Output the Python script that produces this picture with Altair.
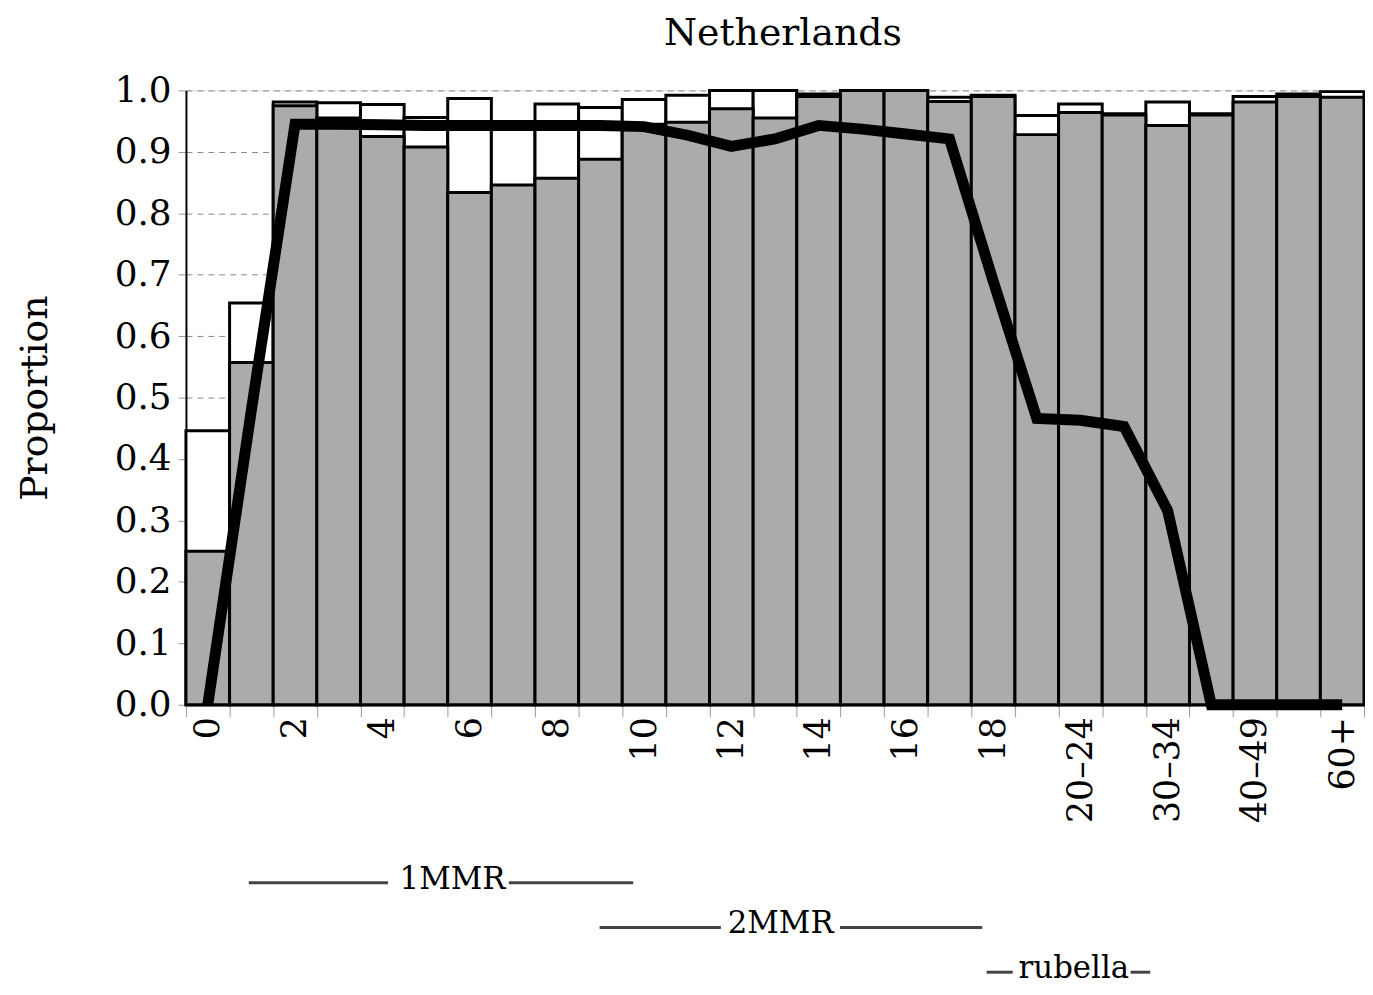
import json
import altair as alt
import pandas as pd

# ---- data ----
ages = [str(i) for i in range(20)] + ["20–24", "25–29", "30–34", "35–39", "40–49", "50–59", "60+"]
gray_prop = [0.250, 0.557, 0.975, 0.955, 0.925, 0.908, 0.834, 0.846, 0.857, 0.888,
             0.945, 0.948, 0.970, 0.955, 0.990, 1.000, 1.000, 0.982, 0.990, 0.928,
             0.964, 0.960, 0.943, 0.960, 0.981, 0.990, 0.989]
total_prop = [0.446, 0.654, 0.981, 0.980, 0.977, 0.956, 0.987, 0.943, 0.978, 0.972,
              0.985, 0.992, 1.000, 1.000, 0.994, 1.000, 1.000, 0.989, 0.992, 0.959,
              0.978, 0.962, 0.981, 0.962, 0.990, 0.994, 0.998]
line_prop = [0.000, 0.480, 0.945, 0.945, 0.944, 0.943, 0.943, 0.943, 0.943, 0.943,
             0.941, 0.927, 0.909, 0.921, 0.943, 0.937, 0.929, 0.921, 0.690, 0.466,
             0.463, 0.453, 0.316, 0.000, 0.000, 0.000, 0.000]

# annotation bands (in bar units along the age axis)
ann_labels = ["1MMR", "2MMR", "rubella"]
ann_row = [0, 1, 2]
ann_start = [1.44, 9.48, 18.35]
ann_text_left = [4.63, 12.26, 18.95]
ann_text_right = [7.40, 14.99, 21.65]
ann_end = [10.25, 18.25, 22.10]
ann_center = [6.11, 13.63, 20.35]

df = pd.DataFrame({"age": ages, "gray": gray_prop, "total": total_prop, "line": line_prop})

seg_rows = []
for lab, r, s, tl, tr, e in zip(ann_labels, ann_row, ann_start, ann_text_left, ann_text_right, ann_end):
    seg_rows.append({"label": lab, "row": r, "a": s, "b": tl})
    seg_rows.append({"label": lab, "row": r, "a": tr, "b": e})
seg_df = pd.DataFrame(seg_rows)
txt_df = pd.DataFrame({"label": ann_labels, "row": ann_row, "c": ann_center})

FONT = "DejaVu Serif"
shown = ages[::2]
label_expr = f"indexof({json.dumps(shown)}, datum.value) >= 0 ? datum.value : ''"

X = alt.X(
    "age:N",
    sort=ages,
    scale=alt.Scale(paddingInner=0, paddingOuter=0),
    axis=alt.Axis(
        title=None,
        tickBand="extent",
        labelAngle=-90,
        labelExpr=label_expr,
        labelFont=FONT,
        labelFontSize=35,
        labelColor="black",
        labelPadding=0,
        tickSize=12,
        tickColor="#999999",
        tickWidth=1,
        domainColor="black",
        domainWidth=2,
        grid=False,
    ),
)

yaxis = alt.Axis(
    title="Proportion",
    values=[round(i * 0.1, 1) for i in range(11)],
    format=".1f",
    grid=True,
    gridDash=[6, 5],
    gridColor="#888888",
    gridWidth=1,
    tickSize=8,
    tickColor="#999999",
    labelPadding=7,
    labelFont=FONT,
    labelFontSize=36,
    labelColor="black",
    titleFont=FONT,
    titleFontSize=38,
    titleFontWeight="normal",
    titleColor="black",
    titlePadding=60,
    domainColor="black",
    domainWidth=2,
)

base = alt.Chart(df)
white = base.mark_bar(fill="white", stroke="black", strokeWidth=3).encode(
    x=X, y=alt.Y("total:Q", scale=alt.Scale(domain=[0, 1]), axis=yaxis)
)
grayb = base.mark_bar(fill="#ababab", stroke="black", strokeWidth=3).encode(
    x=X, y=alt.Y("gray:Q")
)
line = base.mark_line(color="black", strokeWidth=11, strokeJoin="miter", strokeCap="butt").encode(
    x=X, y=alt.Y("line:Q")
)
main = alt.layer(white, grayb, line)

annX = alt.Scale(domain=[0, 27], nice=False, zero=False)
annY = alt.Scale(domain=[0, 2], range=[797, 887])
rules = alt.Chart(seg_df).mark_rule(color="#444444", strokeWidth=3).encode(
    x=alt.X("a:Q", scale=annX, axis=None),
    x2="b:Q",
    y=alt.Y("row:Q", scale=annY, axis=None),
)
texts = alt.Chart(txt_df).mark_text(font=FONT, fontSize=31, color="black", baseline="alphabetic", dy=6).encode(
    x=alt.X("c:Q", scale=annX, axis=None),
    y=alt.Y("row:Q", scale=annY, axis=None),
    text="label:N",
)
ann = alt.layer(rules, texts)

chart = (
    alt.layer(main, ann)
    .resolve_scale(x="independent", y="independent")
    .properties(
        width=1185,
        height=618,
        title=alt.TitleParams(
            "Netherlands", font=FONT, fontSize=38, fontWeight="normal", color="black",
            baseline="alphabetic", offset=-10, anchor="middle", dx=8,
        ),
        autosize=alt.AutoSizeParams(type="none"),
        padding={"left": 179, "top": 80, "right": 1, "bottom": 280},
    )
    .configure_view(stroke=None)
    .configure(background="white")
)

chart.save("out.html", embed_options={"renderer": "svg", "actions": False})
